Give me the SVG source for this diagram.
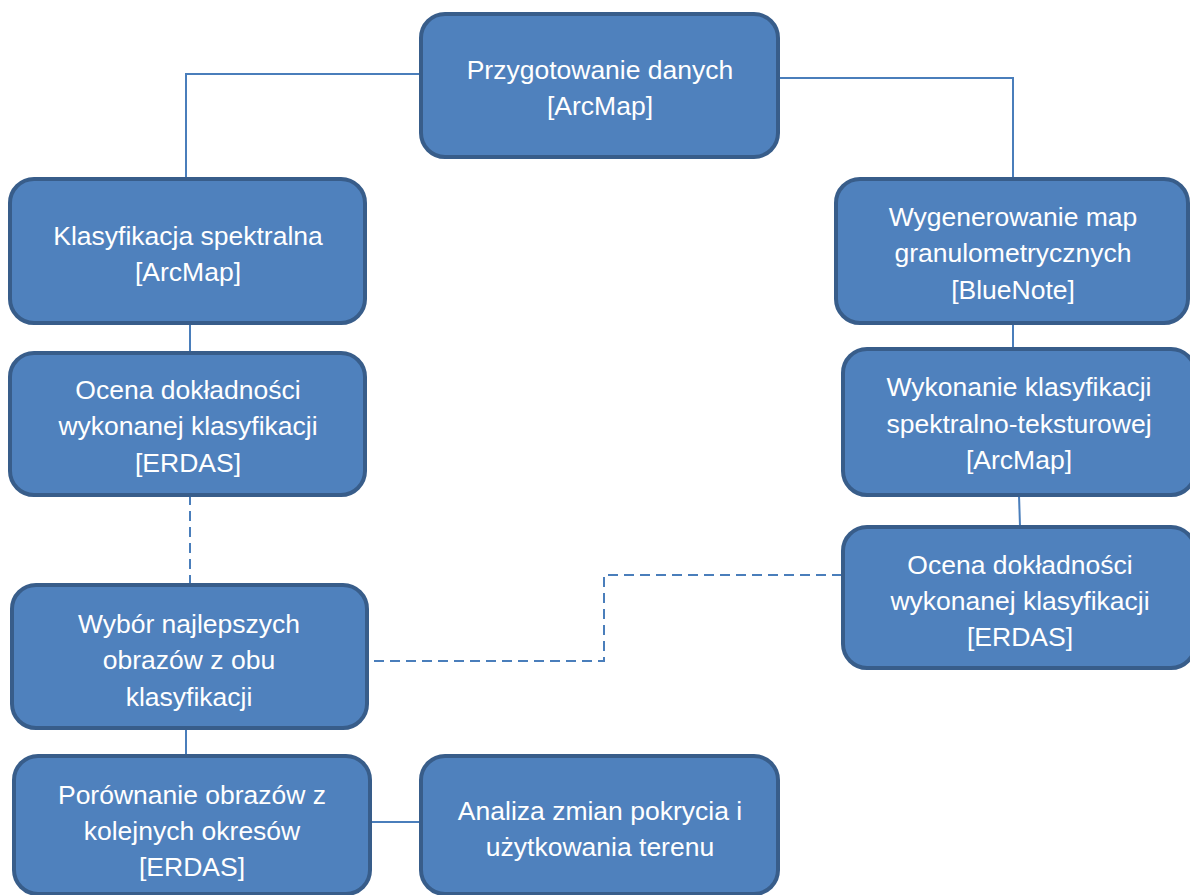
<svg xmlns="http://www.w3.org/2000/svg" width="1190" height="895" viewBox="0 0 1190 895">
<style>
.box{fill:#4F81BD;stroke:#385D8A;stroke-width:4}
.t{font-family:"Liberation Sans",Arial,sans-serif;font-size:26.5px;fill:#ffffff;text-anchor:middle}
.c{fill:none;stroke:#4A7EBB;stroke-width:2}
.d{fill:none;stroke:#4A7EBB;stroke-width:2;stroke-dasharray:10,6}
</style>
<rect width="1190" height="895" fill="#ffffff"/>
<g id="connectors">
<polyline class="c" points="421,74 186,74 186,178"/>
<polyline class="c" points="778,78 1013,78 1013,178"/>
<line class="c" x1="190" y1="323" x2="190" y2="352"/>
<line class="d" x1="190" y1="495" x2="190" y2="600"/>
<line class="c" x1="1013" y1="323" x2="1013" y2="348"/>
<line class="c" x1="1019" y1="495" x2="1020" y2="526"/>
<polyline class="d" points="842,575 604,575 604,661 367,661"/>
<line class="c" x1="186" y1="728" x2="186" y2="755"/>
<line class="c" x1="370" y1="822" x2="421" y2="822"/>
</g>
<g id="n1"><rect class="box" x="421" y="14" width="357" height="143" rx="24"/>
<text class="t" x="600" y="79">Przygotowanie danych</text><text class="t" x="600" y="115">[ArcMap]</text></g>
<g id="n2"><rect class="box" x="10" y="179" width="355" height="144" rx="24"/>
<text class="t" x="188" y="245">Klasyfikacja spektralna</text><text class="t" x="188" y="281">[ArcMap]</text></g>
<g id="n3"><rect class="box" x="10" y="353" width="355" height="142" rx="24"/>
<text class="t" x="188" y="399">Ocena dokładności</text><text class="t" x="188" y="435">wykonanej klasyfikacji</text><text class="t" x="188" y="472">[ERDAS]</text></g>
<g id="n4"><rect class="box" x="836" y="179" width="352" height="144" rx="24"/>
<text class="t" x="1013" y="226">Wygenerowanie map</text><text class="t" x="1013" y="262">granulometrycznych</text><text class="t" x="1013" y="299">[BlueNote]</text></g>
<g id="n5"><rect class="box" x="843" y="349" width="352" height="146" rx="24"/>
<text class="t" x="1019" y="396">Wykonanie klasyfikacji</text><text class="t" x="1019" y="433">spektralno-teksturowej</text><text class="t" x="1019" y="469">[ArcMap]</text></g>
<g id="n6"><rect class="box" x="843" y="527" width="352" height="141" rx="24"/>
<text class="t" x="1020" y="574">Ocena dokładności</text><text class="t" x="1020" y="610">wykonanej klasyfikacji</text><text class="t" x="1020" y="646">[ERDAS]</text></g>
<g id="n7"><rect class="box" x="12" y="585" width="355" height="143" rx="24"/>
<text class="t" x="189" y="633">Wybór najlepszych</text><text class="t" x="189" y="669">obrazów z obu</text><text class="t" x="189" y="706">klasyfikacji</text></g>
<g id="n8"><rect class="box" x="14" y="756" width="356" height="138" rx="24"/>
<text class="t" x="192" y="804">Porównanie obrazów z</text><text class="t" x="192" y="840">kolejnych okresów</text><text class="t" x="192" y="876">[ERDAS]</text></g>
<g id="n9"><rect class="box" x="421" y="756" width="357" height="138" rx="24"/>
<text class="t" x="600" y="820">Analiza zmian pokrycia i</text><text class="t" x="600" y="856">użytkowania terenu</text></g>
</svg>
